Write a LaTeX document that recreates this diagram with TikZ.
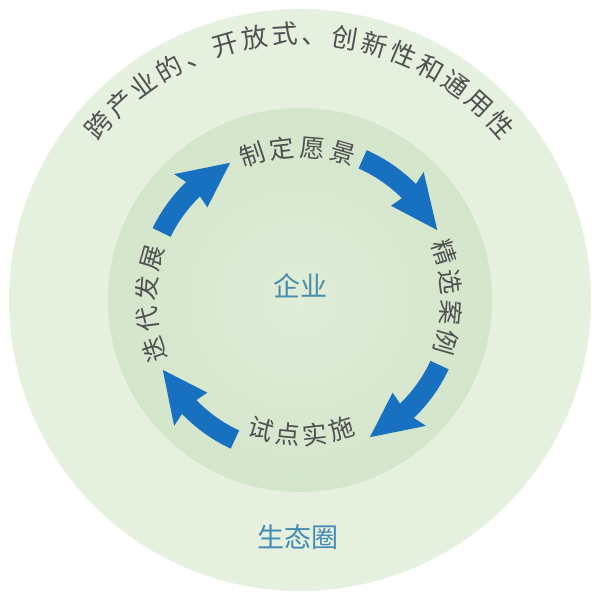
\documentclass[tikz,border=0pt]{standalone}
\usepackage{fontspec}
\newfontfamily\cjk{Noto Sans CJK SC}
\definecolor{outerring}{RGB}{229,240,223}
\definecolor{innerc}{RGB}{224,237,217}
\definecolor{inneredge}{RGB}{211,229,202}
\definecolor{arrowblue}{RGB}{24,112,192}
\definecolor{txtgray}{RGB}{80,80,80}
\definecolor{tealtxt}{RGB}{72,140,165}
\definecolor{bluetxt}{RGB}{66,138,180}
\tikzset{
  chbase/.style={inner sep=0pt, anchor=center, text height=0.8em, text depth=0.08em},
  outch/.style={chbase, font=\cjk\fontsize{26}{26}\selectfont, text=txtgray},
  inch/.style={chbase, font=\cjk\fontsize{25}{25}\selectfont, text=txtgray},
  corelabel/.style={chbase, font=\cjk\fontsize{27}{27}\selectfont, text=tealtxt},
  ecolabel/.style={chbase, font=\cjk\fontsize{27}{27}\selectfont, text=bluetxt},
  cyclearrow/.style={fill=arrowblue, draw=none},
}
\newcommand\cyarrow[3]{%
  \path[cyclearrow] (#1:164pt) arc[start angle=#1, end angle=#2, radius=164pt]
    -- ({#2+1}:178pt) -- (#3:154pt) -- ({#2+1}:131pt) -- (#2:144pt)
    arc[start angle=#2, end angle=#1, radius=144pt] -- cycle;}
\begin{document}
\begin{tikzpicture}[x=1pt,y=1pt]
\useasboundingbox (0,0) rectangle (600,607);
\begin{scope}[shift={(300,307)}]
  % circles
  \fill[outerring] (0,0) circle[radius=291pt];
  \shade[inner color=innerc, outer color=inneredge] (0,0) circle[radius=192pt];
  % outer curved text
  \foreach \c [count=\i from 0] in {跨,产,业,的,、,开,放,式,、,创,新,性,和,通,用,性}{
    \pgfmathsetmacro\ang{139-6.53*\i}
    \node[outch, rotate=\ang-90] (o\i) at (\ang:260pt) {\c};
  }
  % top label
  \foreach \c [count=\i from 0] in {制,定,愿,景}{
    \pgfmathsetmacro\ang{108.25-11.5*\i}
    \node[inch, rotate=\ang-90] (t\i) at (\ang:147pt) {\c};
  }
  % right label
  \foreach \c [count=\i from 0] in {精,选,案,例}{
    \pgfmathsetmacro\ang{18.25-11.5*\i}
    \node[inch, rotate=\ang-90] (r\i) at (\ang:146pt) {\c};
  }
  % bottom label
  \foreach \c [count=\i from 0] in {试,点,实,施}{
    \pgfmathsetmacro\ang{253.25+11.5*\i}
    \node[inch, rotate=\ang+90] (b\i) at (\ang:141pt) {\c};
  }
  % left label
  \foreach \c [count=\i from 0] in {迭,代,发,展}{
    \pgfmathsetmacro\ang{198.75-11.5*\i}
    \node[inch, rotate=\ang-90] (l\i) at (\ang:148pt) {\c};
  }
  % centre labels
  \node[corelabel] (core) at (0,7) {企业};
  \node[ecolabel] (eco) at (-2,-244) {生态圈};
  % arrows
  \cyarrow{154}{134}{117}
  \cyarrow{66}{45}{27}
  \cyarrow{-25}{-46}{-63}
  \cyarrow{245}{224}{207}
\end{scope}
\end{tikzpicture}
\end{document}
